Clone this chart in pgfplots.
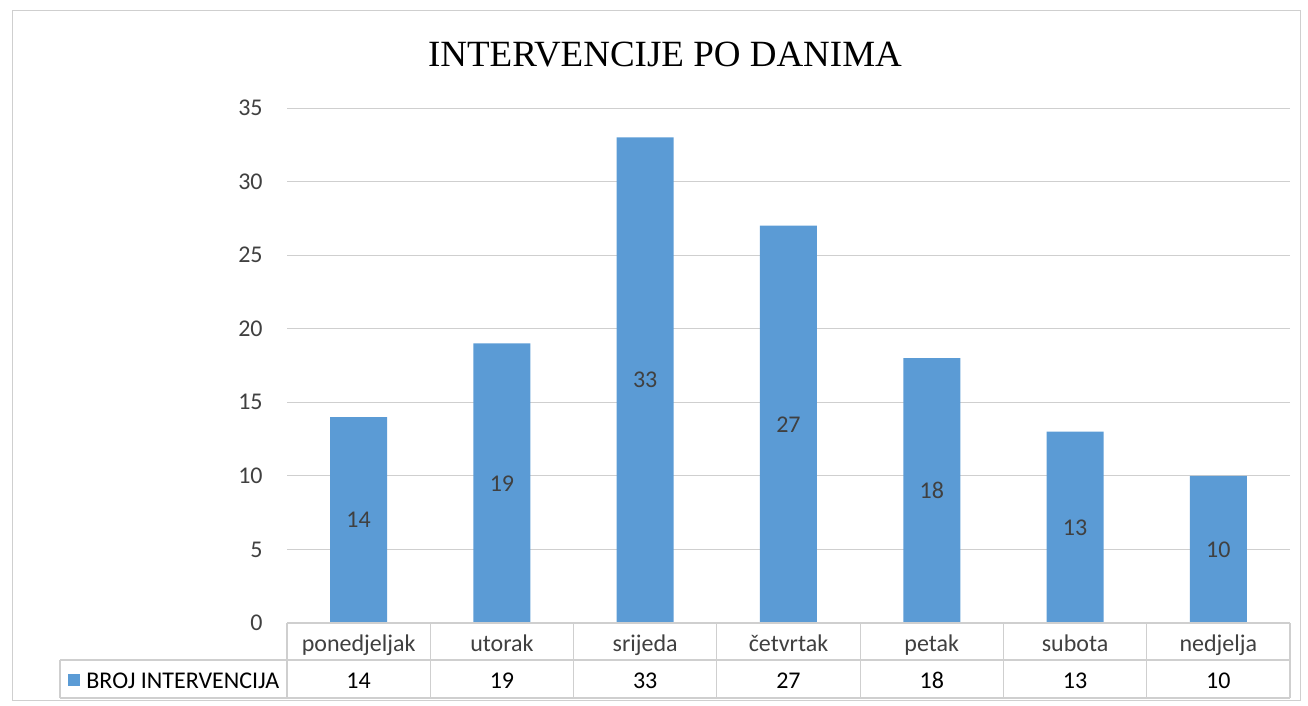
\documentclass[border=0pt]{standalone}
\usepackage{pgfplots}
\pgfplotsset{compat=1.18}
\usepackage{fontspec}
\setmainfont{Carlito}
\newfontfamily\titlefont{Liberation Serif}
\definecolor{barblue}{HTML}{5B9BD5}
\definecolor{gridc}{HTML}{CFCFCF}
\definecolor{lbl}{HTML}{404040}
\begin{document}
\begin{tikzpicture}[x=0.5pt,y=-0.5pt]
\useasboundingbox (0,0) rectangle (1308,706);
\draw[gridc, line width=0.4pt] (12,10) rectangle (1300,700);
\node[font=\titlefont\fontsize{18.5}{22}\selectfont, text=black] at (665,55) {INTERVENCIJE PO DANIMA};
\begin{axis}[
  at={(143.5pt,-311.5pt)}, anchor=south west,
  scale only axis, width=501.5pt, height=257.5pt,
  xmin=-0.5, xmax=6.5, ymin=0, ymax=35,
  ytick={0,5,...,35},
  xtick={0,...,6},
  xticklabels={ponedjeljak,utorak,srijeda,četvrtak,petak,subota,nedjelja},
  ymajorgrids, grid style={gridc, line width=0.5pt},
  axis line style={draw=none},
  major tick length=0pt,
  /pgf/number format/assume math mode=true,
  tick label style={font=\fontsize{12}{14}\selectfont, text=lbl},
  yticklabel style={anchor=east, inner sep=0pt, xshift=-12pt},
  xticklabel style={anchor=base, inner sep=0pt, yshift=-14pt},
  clip=false,
]
\addplot[ybar, bar width=28.5pt, fill=barblue, draw=none,
  nodes near coords,
  visualization depends on=y \as \rawy,
  every node near coord/.append style={anchor=center, font=\fontsize{12}{14}\selectfont, text=lbl, shift={(axis direction cs:0,-\rawy/2)}}]
  coordinates {(0,14) (1,19) (2,33) (3,27) (4,18) (5,13) (6,10)};
\addplot[draw=none, mark=none, nodes near coords, point meta=explicit symbolic,
  every node near coord/.append style={anchor=base, inner sep=0pt, font=\fontsize{12}{14}\selectfont, text=black}]
  coordinates {(0,-4.418)[14] (1,-4.418)[19] (2,-4.418)[33] (3,-4.418)[27] (4,-4.418)[18] (5,-4.418)[13] (6,-4.418)[10]};
\end{axis}
% data table grid
\begin{scope}[gridc, line width=0.6pt]
\draw (287,623) -- (1290,623);
\draw (60,660) -- (1290,660);
\draw (60,698) -- (1290,698);
\draw (60,660) -- (60,698);
\foreach \k in {0,...,7} { \draw ({287+\k*143.29},623) -- ({287+\k*143.29},698); }
\end{scope}
\fill[barblue] (68,674) rectangle (80,686);
\node[anchor=base west, inner sep=0pt, font=\fontsize{12}{14}\selectfont, text=black] at (86,688) {BROJ INTERVENCIJA};
\end{tikzpicture}
\end{document}
